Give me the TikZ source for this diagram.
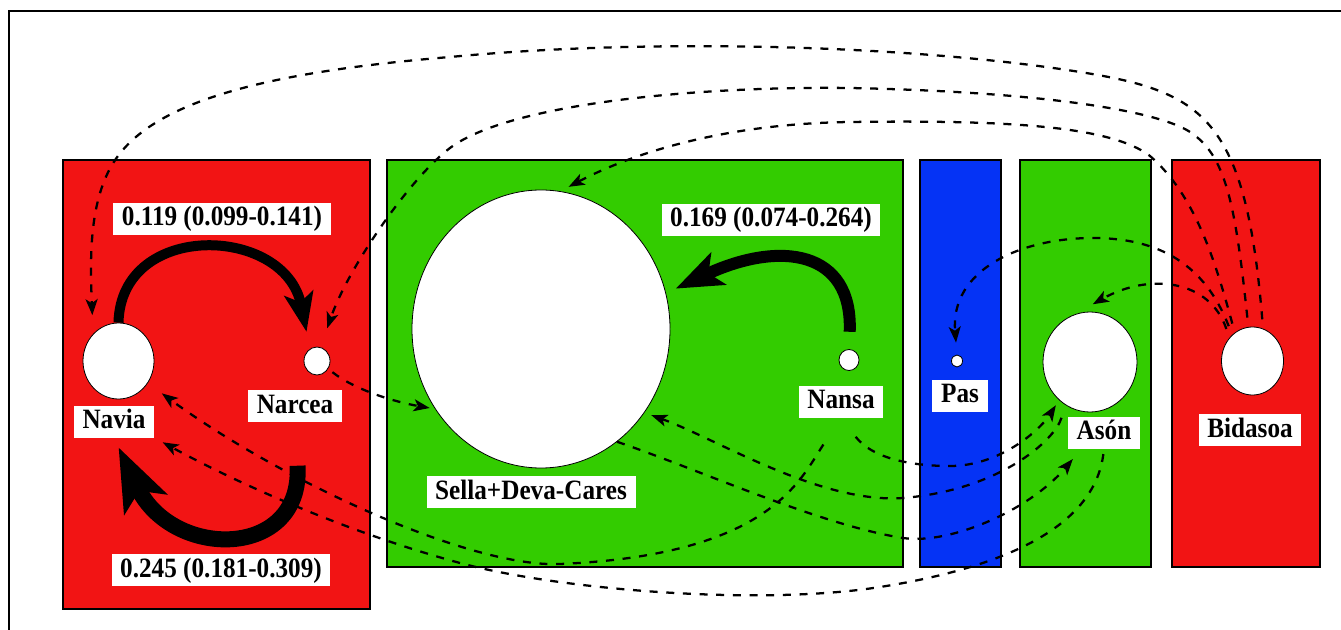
\documentclass[tikz,border=0pt]{standalone}
\usepackage{fontspec}
\setmainfont{Liberation Serif}[FakeStretch=0.9]
\usepackage{tikz}
\usetikzlibrary{arrows.meta,shapes.geometric}

\definecolor{riverred}{RGB}{242,20,20}
\definecolor{rivergreen}{RGB}{51,204,0}
\definecolor{riverblue}{RGB}{5,51,245}
\newcommand{\tagfont}{\fontsize{21}{24}\selectfont\bfseries}

\begin{document}
\begin{tikzpicture}[x=0.75pt,y=-0.75pt,
    panel/.style={draw=black,line width=1.2pt},
    site/.style={ellipse,draw=black,fill=white,line width=0.6pt,inner sep=0pt},
    tag/.style={fill=white,inner xsep=6.5pt,inner ysep=1.9pt,text height=15pt,text depth=4.5pt,font=\tagfont},
    flow/.style={line width=1.7pt,dash pattern=on 6pt off 6.5pt,-{Stealth[length=12pt,width=9pt,inset=3pt]}},
    bigflow/.style={line width=#1,-{Stealth[length=0pt 3.9,width=0pt 2.9,inset=0pt 0.9]}}]
  \useasboundingbox (0,0) rectangle (1341,630);

  % Ramme
  \draw[line width=1.4pt] (9,630) -- (9,11) -- (1341,11);

  % Flodfelter
  \filldraw[panel,fill=riverred] (63,160) rectangle (370,609);
  \filldraw[panel,fill=rivergreen] (387,160) rectangle (903,567);
  \filldraw[panel,fill=riverblue] (920,160) rectangle (1001,567);
  \filldraw[panel,fill=rivergreen] (1020,160) rectangle (1151,567);
  \filldraw[panel,fill=riverred] (1172,160) rectangle (1320,567);

  % Bestande
  \node[site,minimum width=53.25pt,minimum height=57pt] (navia) at (118.5,361) {};
  \node[site,minimum width=19.5pt,minimum height=21pt] (narcea) at (317,361) {};
  \node[site,minimum width=193.5pt,minimum height=208.5pt] (sella) at (541,329) {};
  \node[site,minimum width=15pt,minimum height=15.75pt] (nansa) at (849,360) {};
  \node[site,minimum width=8.25pt,minimum height=9pt] (pas) at (957,361) {};
  \node[site,minimum width=70.5pt,minimum height=75pt] (ason) at (1090,362) {};
  \node[site,minimum width=46.5pt,minimum height=51pt] (bidasoa) at (1252.5,361) {};

  % Navne
  \node[tag] (naviaT) at (114,422) {Navia};
  \node[tag] (narceaT) at (295,406) {Narcea};
  \node[tag] (sellaT) at (531,492) {Sella+Deva-Cares};
  \node[tag] (nansaT) at (841,402) {Nansa};
  \node[tag] (pasT) at (960,396) {Pas};
  \node[tag] (asonT) at (1104,433) {Asón};
  \node[tag] (bidasoaT) at (1250,430) {Bidasoa};

  % Rater
  \node[tag] (rateA) at (222,219) {0.119 (0.099-0.141)};
  \node[tag] (rateB) at (221,570) {0.245 (0.181-0.309)};
  \node[tag] (rateC) at (771,220) {0.169 (0.074-0.264)};

  % Store strømme
  \draw[bigflow=7.5pt,shorten >=13pt] (navia.north) .. controls (121,220) and (285,225) .. (narcea.120);
  \draw[bigflow=12pt,shorten <=33pt,shorten >=8pt] (narceaT.south) .. controls (303,560) and (172,560) .. (naviaT.south);
  \draw[bigflow=9pt,shorten <=13pt,shorten >=8pt] (nansa.north) .. controls (853,250) and (780,240) .. (sella.16);

  % Strømme fra Bidasoa
  \draw[flow,shorten <=7pt,shorten >=14pt] (bidasoa.72) .. controls (1245,110) and (1200,90) .. (1067,70)
    .. controls (900,45) and (650,38) .. (450,57) .. controls (270,72) and (150,100) .. (112,165)
    .. controls (89,204) and (90,260) .. (navia.north west);
  \draw[flow,shorten <=7pt,shorten >=15pt] (bidasoa.97) .. controls (1235,200) and (1225,155) .. (1190,132)
    .. controls (1160,112) and (1050,92) .. (850,88) .. controls (700,86) and (510,103) .. (450,148)
    .. controls (410,178) and (348,268) .. (narcea.75);
  \draw[flow,shorten <=7pt,shorten >=7pt] (bidasoa.122) .. controls (1215,260) and (1195,195) .. (1150,156)
    .. controls (1110,125) and (1000,120) .. (850,122) .. controls (700,124) and (610,165) .. (sella.82);
  \draw[flow,shorten <=7pt,shorten >=9pt] (bidasoa.128) .. controls (1205,265) and (1160,238) .. (1093,238)
    .. controls (1020,238) and (950,270) .. (pas.north);
  \draw[flow,shorten <=7pt,shorten >=15pt] (bidasoa.135) .. controls (1210,280) and (1150,272) .. (ason.107);

  % Øvrige strømme
  \draw[flow,shorten <=4pt,shorten >=4pt] (narcea.-35) .. controls (355,390) and (395,402) .. (sella.217);
  \draw[flow,shorten <=24pt,shorten >=13pt] (nansaT.south) .. controls (800,480) and (770,555) .. (560,564)
    .. controls (470,568) and (280,480) .. (navia.-37);
  \draw[flow,shorten <=4pt,shorten >=7pt] (asonT.south) .. controls (1095,520) and (1020,565) .. (880,587)
    .. controls (760,606) and (560,590) .. (460,563) .. controls (360,536) and (250,490) .. (naviaT.south east);
  \draw[flow,shorten <=10pt,shorten >=5.5pt] (ason.240) .. controls (1055,440) and (1000,490) .. (903,498)
    .. controls (820,504) and (715,438) .. (sella.-39);
  \draw[flow,shorten >=10pt] (sella.-56) .. controls (700,470) and (820,525) .. (903,538)
    .. controls (950,545) and (1030,510) .. (asonT.215);
  \draw[flow,shorten <=18pt,shorten >=4.5pt] (nansaT.south) .. controls (872,458) and (910,466) .. (950,466)
    .. controls (1000,466) and (1040,430) .. (ason.231);
\end{tikzpicture}
\end{document}
